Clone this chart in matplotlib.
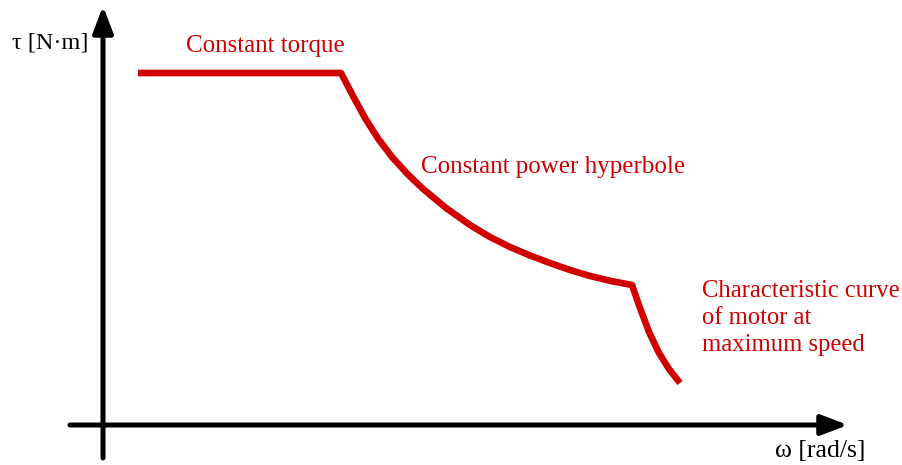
import matplotlib
matplotlib.use("Agg")
import matplotlib.pyplot as plt

# Torque-speed characteristic (arbitrary units, origin at axis crossing)
omega = [35, 238, 250, 262, 275, 289, 304, 319, 343, 367, 387, 407, 427,
         447, 467, 487, 508, 529, 537, 546, 556, 566, 577]
tau = [352, 352, 329, 307, 286.5, 268, 251.5, 237, 217, 200, 188, 178,
       169.5, 162, 155, 149, 144, 140, 117, 93, 72, 56, 42]

x_label = "ω [rad/s]"
y_label = "τ [N·m]"
labels = ["Constant torque", "Constant power hyperbole",
          "Characteristic curve\nof motor at\nmaximum speed"]

RED = "#d00000"
FONT = ["Liberation Serif", "DejaVu Serif"]

fig = plt.figure(figsize=(9.02, 4.65), dpi=100)
ax = fig.add_axes([0, 0, 1, 1])
ax.set_xlim(-103, 799)
ax.set_ylim(-40, 425)
ax.axis("off")

# axes arrows
arrow_kw = dict(arrowstyle="-|>,head_length=1.0,head_width=0.38",
                lw=3.6, color="black", mutation_scale=16,
                shrinkA=0, shrinkB=0)
ax.annotate("", xy=(0, 419), xytext=(0, -33), arrowprops=arrow_kw)
ax.annotate("", xy=(745, 0), xytext=(-33, 0), arrowprops=arrow_kw)

ax.plot(omega, tau, color=RED, lw=4.8, solid_joinstyle="round",
        solid_capstyle="butt")

ax.text(-15, 382, y_label, ha="right", va="center", fontsize=17.5,
        family=FONT, color="black")
ax.text(762, -26, x_label, ha="right", va="center", fontsize=18.5,
        family=FONT, color="black")

ax.text(83, 379, labels[0], ha="left", va="center", fontsize=18,
        family=FONT, color=RED)
ax.text(318, 258, labels[1], ha="left", va="center", fontsize=18,
        family=FONT, color=RED)
ax.text(599, 107, labels[2], ha="left", va="center", fontsize=17.7,
        family=FONT, color=RED, linespacing=1.27)

fig.savefig("out.png", dpi=100)
